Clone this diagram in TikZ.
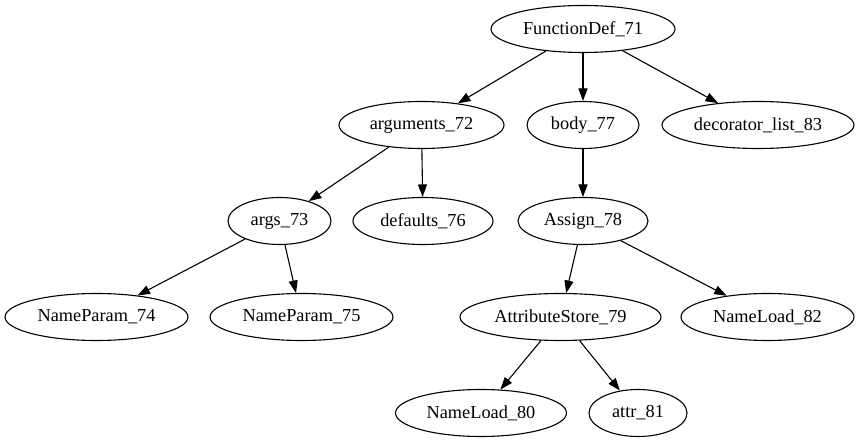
\documentclass[tikz,border=0pt]{standalone}
\usepackage{fontspec}
\setmainfont{Liberation Serif}
\usetikzlibrary{shapes.geometric,arrows.meta}
\tikzset{
  tn/.style={draw, ellipse, inner sep=0pt, minimum height=47pt, minimum width=#1, font=\fontsize{18.3}{20}\selectfont, line width=1.1pt},
  edge/.style={draw, line width=1.1pt, -{Triangle[length=12.5pt,width=9pt]}}
}
\begin{document}
\begin{tikzpicture}[x=1pt,y=-1pt]
\useasboundingbox (0,0) rectangle (859,443);
\node[tn=184pt] (f71) at (583,29) {FunctionDef\_71};
\node[tn=165pt] (a72) at (421.5,125) {arguments\_72};
\node[tn=112pt] (b77) at (583,125) {body\_77};
\node[tn=192pt] (d83) at (758,125) {decorator\_list\_83};
\node[tn=103pt] (a73) at (279.5,221) {args\_73};
\node[tn=140pt] (d76) at (423,221) {defaults\_76};
\node[tn=130pt] (as78) at (583,221) {Assign\_78};
\node[tn=183pt] (n74) at (96.5,317) {NameParam\_74};
\node[tn=183pt] (n75) at (301.5,317) {NameParam\_75};
\node[tn=201pt] (at79) at (560.5,317) {AttributeStore\_79};
\node[tn=173pt] (nl82) at (767.5,317) {NameLoad\_82};
\node[tn=171pt] (nl80) at (481,413) {NameLoad\_80};
\node[tn=98pt] (at81) at (638,413) {attr\_81};
\draw[edge] (f71) -- (a72);
\draw[edge] (f71) -- (b77);
\draw[edge] (f71) -- (d83);
\draw[edge] (a72) -- (a73);
\draw[edge] (a72) -- (d76);
\draw[edge] (b77) -- (as78);
\draw[edge] (a73) -- (n74);
\draw[edge] (a73) -- (n75);
\draw[edge] (as78) -- (at79);
\draw[edge] (as78) -- (nl82);
\draw[edge] (at79) -- (nl80);
\draw[edge] (at79) -- (at81);
\end{tikzpicture}
\end{document}
